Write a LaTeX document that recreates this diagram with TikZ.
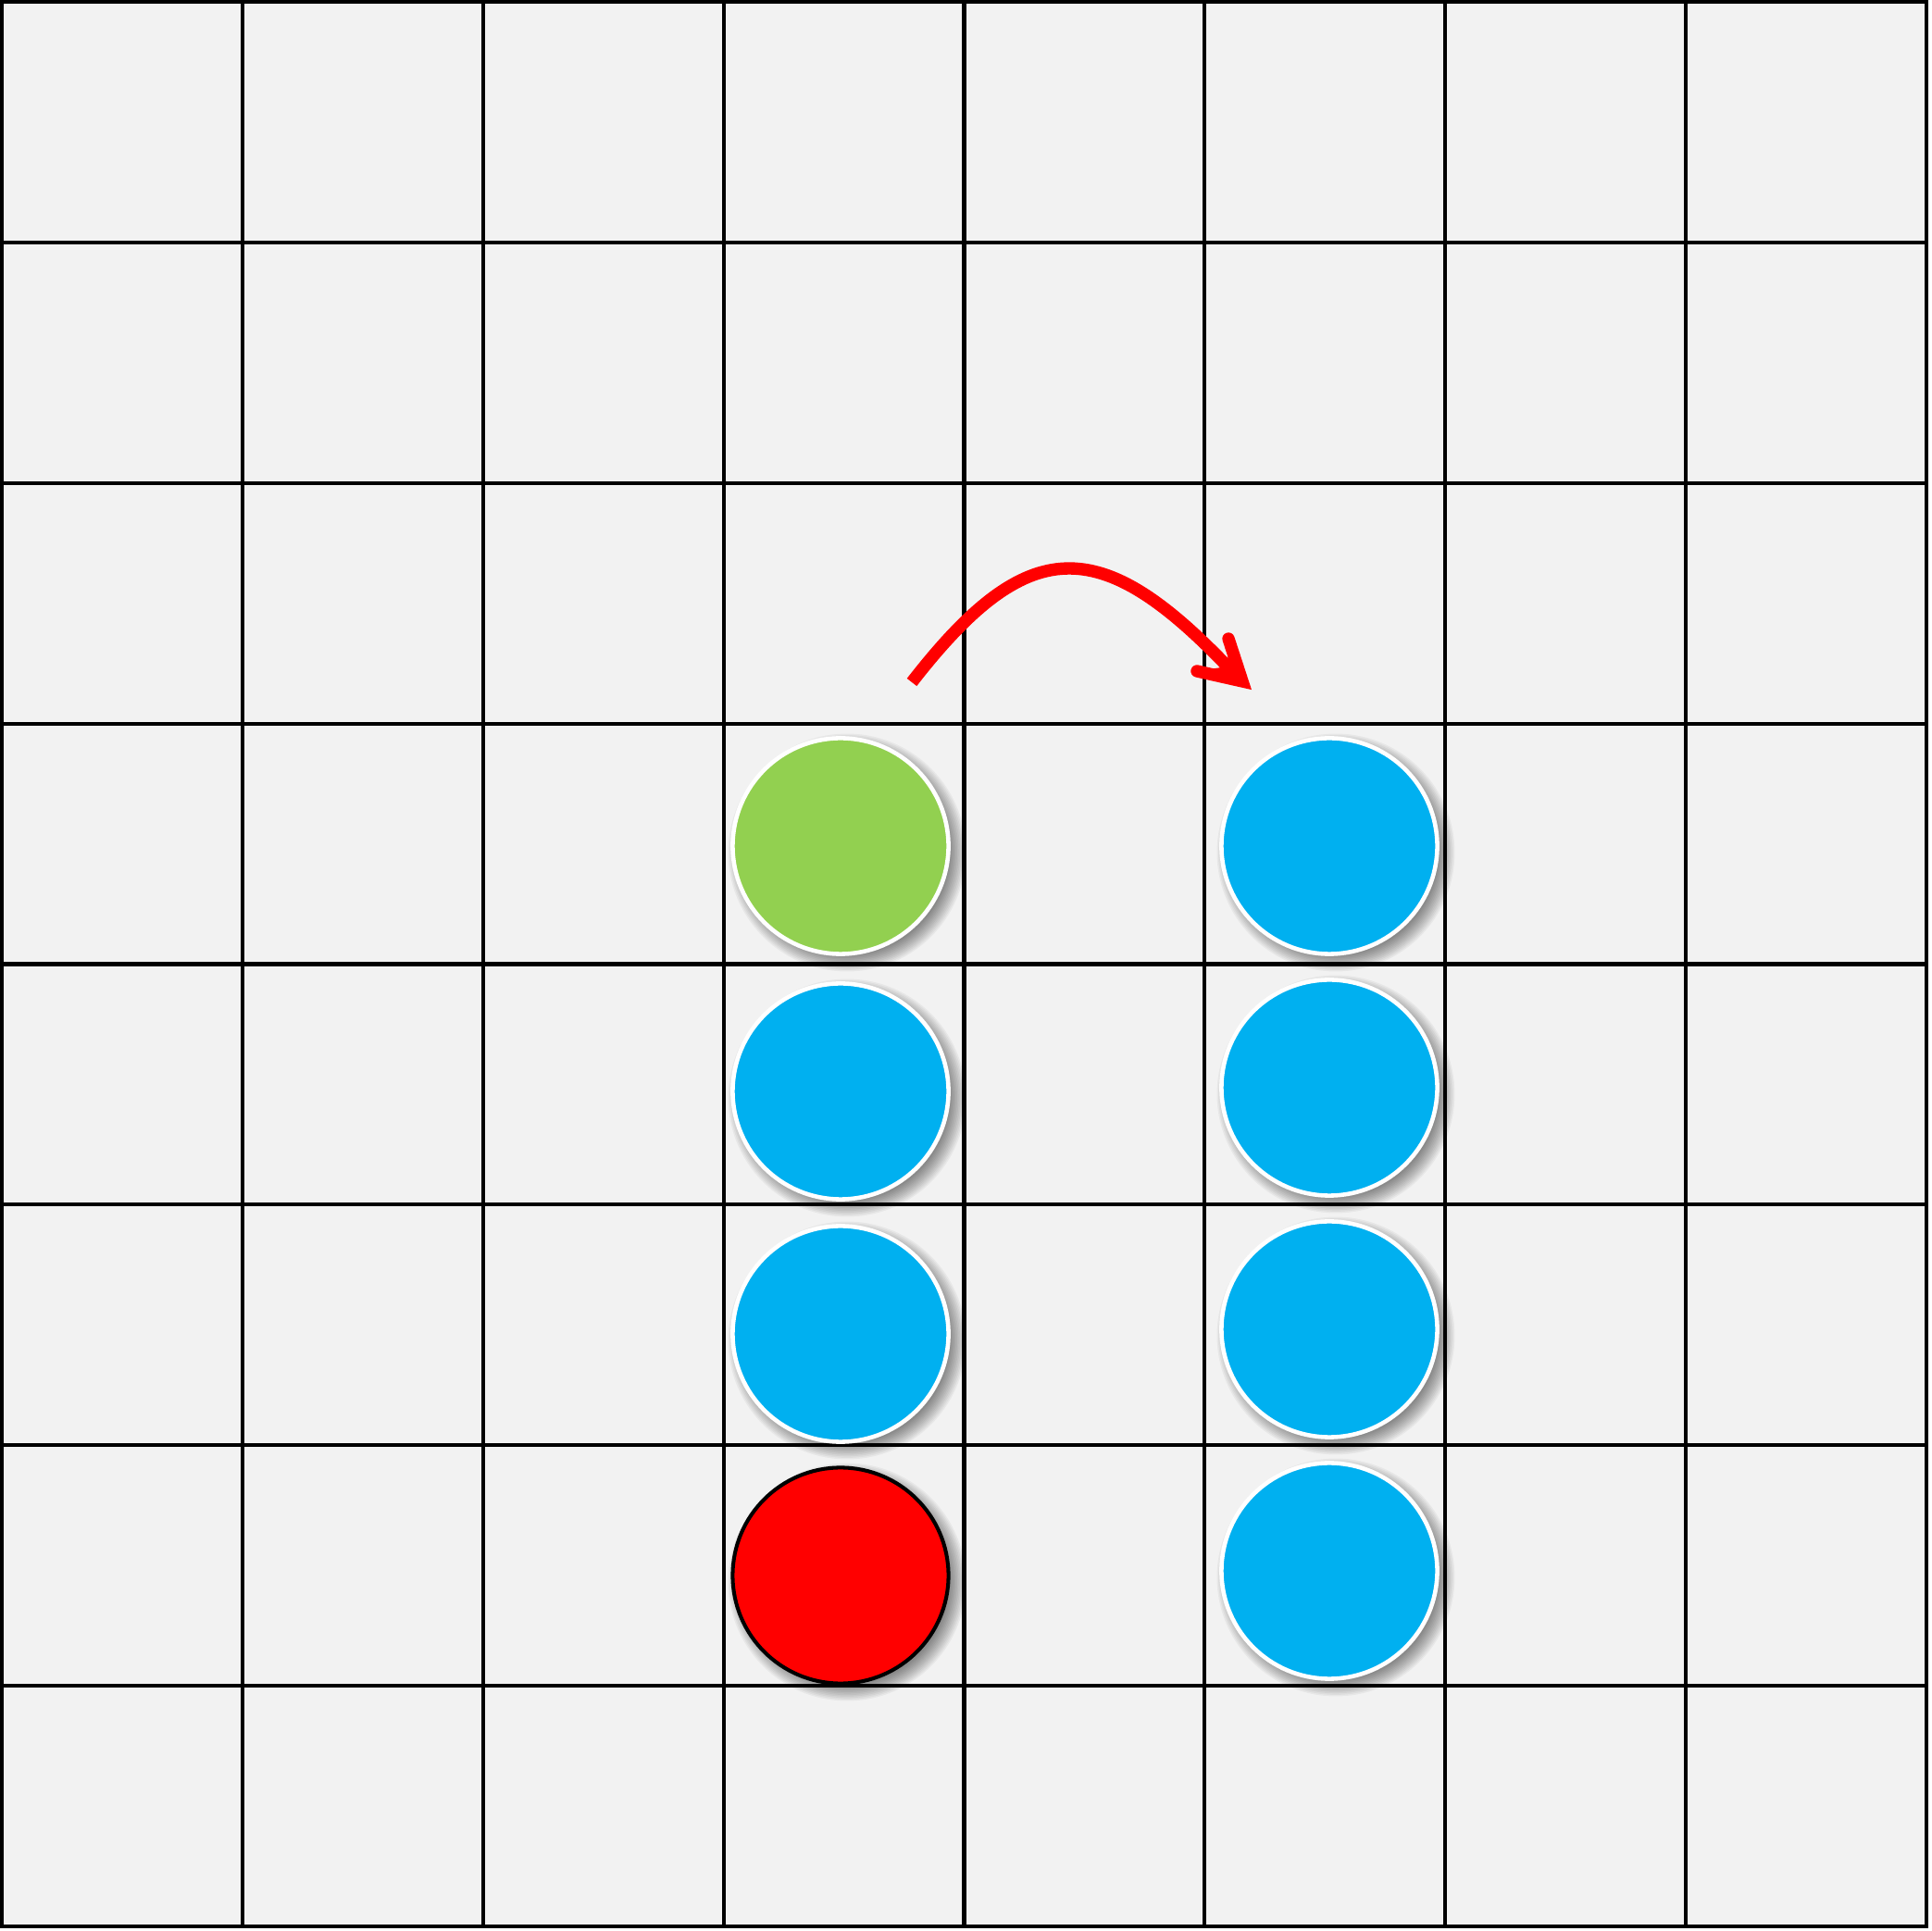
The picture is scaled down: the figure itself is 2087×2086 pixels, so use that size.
\documentclass[tikz,border=0pt]{standalone}
\definecolor{bg}{HTML}{F2F2F2}
\definecolor{grn}{HTML}{92D050}
\definecolor{blu}{HTML}{00B0F0}
\definecolor{rd}{HTML}{FF0000}
\begin{document}
\begin{tikzpicture}[x=0.01cm,y=-0.01cm,
  gridline/.style={black,line width=1.15pt,line cap=rect},
  token/.style={circle,minimum size=2.33cm,inner sep=0pt,draw=white,line width=1.3pt},
  redtoken/.style={circle,minimum size=2.33cm,inner sep=0pt,draw=black,line width=1.15pt,fill=rd},
  tokshadow/.style={black,opacity=0.045},
  jump/.style={rd,line width=3.8pt},
  jumphead/.style={rd,line width=3.8pt,line cap=round,line join=miter}]
\useasboundingbox (0,0) rectangle (2087,2086);
\fill[white] (0,0) rectangle (2087,2086);
\fill[bg] (2,2) rectangle (2081,2081);
\foreach \i in {0,...,8} {
  \draw[gridline] ({2+259.875*\i},2) -- ({2+259.875*\i},2081);
  \draw[gridline] (2,{2+259.875*\i}) -- (2081,{2+259.875*\i});
}
% shadows
\foreach \cx/\cy in {908/914,908/1179,908/1441,908/1702,1436/914,1436/1175,1436/1436,1436/1697} {
  \foreach \k in {0,...,11}
    \fill[tokshadow] ({\cx+7},{\cy+7}) circle[radius={1.11cm+\k*0.45pt}];
}
\node[token,fill=grn] (g1) at (908,914) {};
\node[token,fill=blu] (l2) at (908,1179) {};
\node[token,fill=blu] (l3) at (908,1441) {};
\node[redtoken] (r4) at (908,1702) {};
\node[token,fill=blu] (b1) at (1436,914) {};
\node[token,fill=blu] (b2) at (1436,1175) {};
\node[token,fill=blu] (b3) at (1436,1436) {};
\node[token,fill=blu] (b4) at (1436,1697) {};
% jump arrow
\coordinate (as) at (985,737);
\coordinate (an) at (1326,720);
\coordinate (at) at (1342,736);
\coordinate (ab1) at (1327,690);
\coordinate (ab2) at (1293,725);
\draw[jump] (as) .. controls (1110,576) and (1188,576) .. (an);
\fill[rd] (at) -- (ab1) -- (an) -- (ab2) -- cycle;
\draw[jumphead] (ab1) -- (at) -- (ab2);
\end{tikzpicture}
\end{document}
